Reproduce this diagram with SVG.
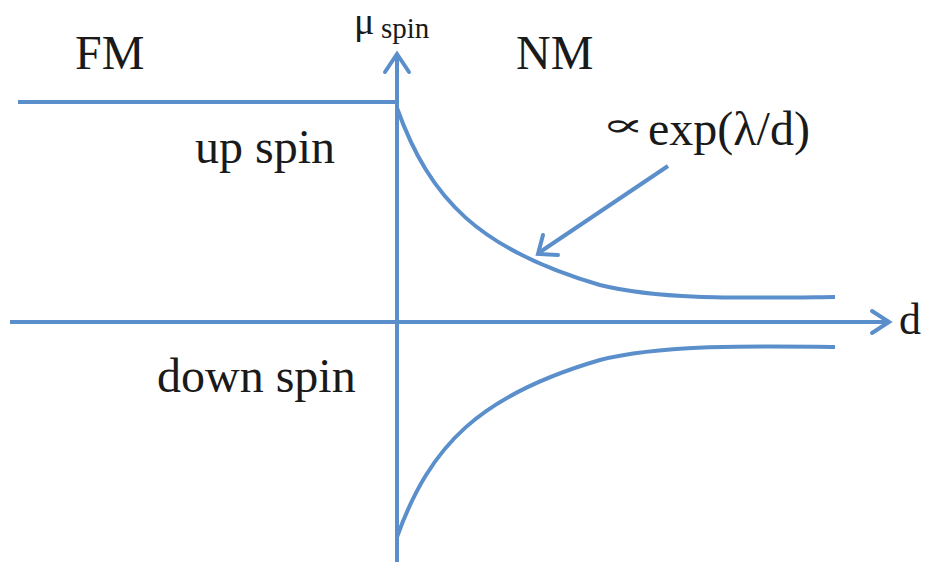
<svg xmlns="http://www.w3.org/2000/svg" width="926" height="565" viewBox="0 0 926 565">
<style>
.ln{fill:none;stroke:#5b8fcb;stroke-width:4;stroke-linecap:butt}
.hd{fill:none;stroke:#5b8fcb;stroke-width:4;stroke-linecap:round;stroke-linejoin:miter}
.t{font-family:"Liberation Serif","Times New Roman",serif;fill:#1a1a1a}
</style>
<rect width="926" height="565" fill="#fff"/>
<g id="connectors">
<path class="ln" d="M397,562 V54"/>
<path class="hd" d="M385,72 L397,54 L409,72"/>
<path class="ln" d="M10,322 H888"/>
<path class="hd" d="M872,311 L889,322 L872,333"/>
<path class="ln" d="M18,102 H397"/>
<path class="ln" d="M397,108 C430,200 480,250 600,285 C660,300 740,298 835,297"/>
<path class="ln" d="M397,537 C430,445 480,395 600,360 C660,345 740,346 835,347"/>
<path class="ln" d="M668,166 L540,252"/>
<path class="hd" d="M543,235 L538,254 L558,255"/>
</g>
<g id="labels">
<text class="t" x="354" y="34" font-size="38">μ</text>
<text class="t" x="381" y="38" font-size="29">spin</text>
<text class="t" x="75" y="69" font-size="48">FM</text>
<text class="t" x="516" y="69" font-size="48">NM</text>
<text class="t" x="195" y="163" font-size="48">up spin</text>
<text class="t" x="157" y="392" font-size="48">down spin</text>
<text x="0" y="0" transform="translate(601,136) scale(1.7,0.85)" font-size="38" font-family="DejaVu Serif,serif" fill="#1a1a1a">∝</text>
<text class="t" x="648" y="145" font-size="48">exp(λ/d)</text>
<text class="t" x="899" y="334" font-size="44">d</text>
</g>
</svg>
